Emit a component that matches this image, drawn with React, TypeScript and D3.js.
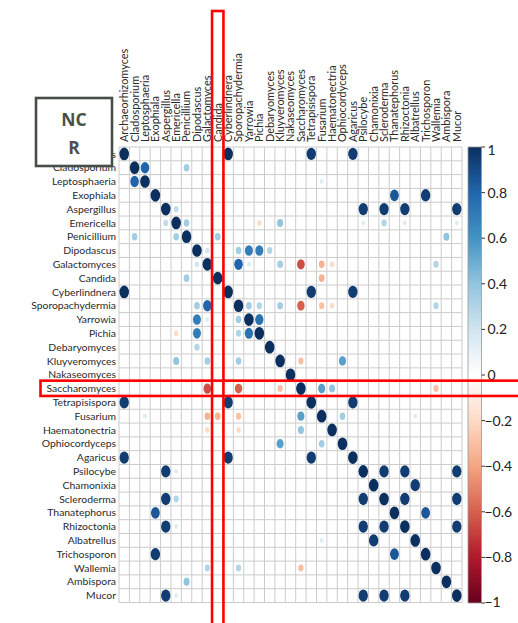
import React from "react";
import * as d3 from "d3";

// Fungal genera, in matrix order (rows top→bottom, columns left→right)
const genera: string[] = [
  "Archaeorhizomyces", "Cladosporium", "Leptosphaeria", "Exophiala", "Aspergillus",
  "Emericella", "Penicillium", "Dipodascus", "Galactomyces", "Candida",
  "Cyberlindnera", "Sporopachydermia", "Yarrowia", "Pichia", "Debaryomyces",
  "Kluyveromyces", "Nakaseomyces", "Saccharomyces", "Tetrapisispora", "Fusarium",
  "Haematonectria", "Ophiocordyceps", "Agaricus", "Psilocybe", "Chamonixia",
  "Scleroderma", "Thanatephorus", "Rhizoctonia", "Albatrellus", "Trichosporon",
  "Wallemia", "Ambispora", "Mucor",
];

// Off-diagonal correlations (symmetric); cells not listed are 0
const pairs: [string, string, number][] = [
  ["Archaeorhizomyces", "Cyberlindnera", 1.0],
  ["Archaeorhizomyces", "Tetrapisispora", 0.95],
  ["Archaeorhizomyces", "Agaricus", 0.95],
  ["Cyberlindnera", "Tetrapisispora", 0.95],
  ["Cyberlindnera", "Agaricus", 0.95],
  ["Tetrapisispora", "Agaricus", 0.95],
  ["Cladosporium", "Leptosphaeria", 0.8],
  ["Cladosporium", "Penicillium", 0.35],
  ["Leptosphaeria", "Fusarium", 0.15],
  ["Exophiala", "Thanatephorus", 0.85],
  ["Exophiala", "Trichosporon", 0.95],
  ["Thanatephorus", "Trichosporon", 0.85],
  ["Aspergillus", "Emericella", 0.25],
  ["Aspergillus", "Psilocybe", 0.95],
  ["Aspergillus", "Scleroderma", 0.95],
  ["Aspergillus", "Rhizoctonia", 0.95],
  ["Aspergillus", "Mucor", 0.95],
  ["Psilocybe", "Scleroderma", 0.95],
  ["Psilocybe", "Rhizoctonia", 0.95],
  ["Psilocybe", "Mucor", 0.95],
  ["Scleroderma", "Rhizoctonia", 0.95],
  ["Scleroderma", "Mucor", 0.95],
  ["Rhizoctonia", "Mucor", 0.95],
  ["Emericella", "Penicillium", 0.35],
  ["Emericella", "Pichia", -0.2],
  ["Emericella", "Kluyveromyces", 0.4],
  ["Emericella", "Psilocybe", 0.15],
  ["Emericella", "Scleroderma", 0.3],
  ["Emericella", "Rhizoctonia", 0.15],
  ["Emericella", "Mucor", 0.15],
  ["Penicillium", "Candida", 0.35],
  ["Penicillium", "Ambispora", 0.4],
  ["Dipodascus", "Galactomyces", 0.2],
  ["Dipodascus", "Sporopachydermia", 0.35],
  ["Dipodascus", "Yarrowia", 0.7],
  ["Dipodascus", "Pichia", 0.7],
  ["Dipodascus", "Debaryomyces", 0.3],
  ["Galactomyces", "Sporopachydermia", 0.8],
  ["Galactomyces", "Yarrowia", 0.15],
  ["Galactomyces", "Kluyveromyces", 0.35],
  ["Galactomyces", "Saccharomyces", -0.65],
  ["Galactomyces", "Fusarium", -0.35],
  ["Galactomyces", "Haematonectria", -0.2],
  ["Galactomyces", "Wallemia", 0.3],
  ["Candida", "Fusarium", -0.35],
  ["Sporopachydermia", "Yarrowia", 0.35],
  ["Sporopachydermia", "Pichia", 0.3],
  ["Sporopachydermia", "Kluyveromyces", 0.35],
  ["Sporopachydermia", "Saccharomyces", -0.6],
  ["Sporopachydermia", "Fusarium", -0.3],
  ["Sporopachydermia", "Haematonectria", -0.2],
  ["Sporopachydermia", "Wallemia", 0.3],
  ["Yarrowia", "Pichia", 0.75],
  ["Kluyveromyces", "Saccharomyces", -0.3],
  ["Kluyveromyces", "Ophiocordyceps", 0.55],
  ["Saccharomyces", "Fusarium", 0.55],
  ["Saccharomyces", "Haematonectria", 0.4],
  ["Saccharomyces", "Wallemia", -0.3],
  ["Fusarium", "Ophiocordyceps", 0.35],
  ["Fusarium", "Albatrellus", 0.15],
  ["Chamonixia", "Albatrellus", 0.95],
];

// Colour legend ticks
const legendTicks: number[] = [1, 0.8, 0.6, 0.4, 0.2, 0, -0.2, -0.4, -0.6, -0.8, -1];

// RdBu diverging ramp
const rampStops: string[] = [
  "#67001F", "#B2182B", "#D6604D", "#F4A582", "#FDDBC7", "#FFFFFF",
  "#D1E5F0", "#92C5DE", "#4393C3", "#2166AC", "#0B2F5E",
];

const W = 518;
const H = 623;
const FONT = "Lato, 'Open Sans', sans-serif";

export default function App() {
  const x = d3.scaleBand<string>().domain(genera).range([119, 462]);
  const y = d3.scaleBand<string>().domain(genera).range([147, 602.5]);
  const cw = x.bandwidth();
  const ch = y.bandwidth();

  const color = d3
    .scaleLinear<string>()
    .domain(d3.range(11).map((i) => -1 + i * 0.2))
    .range(rampStops)
    .interpolate(d3.interpolateRgb)
    .clamp(true);

  // Build symmetric matrix entries
  const cells: { r: string; c: string; v: number }[] = [];
  genera.forEach((g) => cells.push({ r: g, c: g, v: 1 }));
  pairs.forEach(([a, b, v]) => {
    cells.push({ r: a, c: b, v });
    cells.push({ r: b, c: a, v });
  });

  const barX = 468;
  const barW = 13.5;
  const ly = d3.scaleLinear().domain([-1, 1]).range([603, 147]);
  const fmt = (t: number) => (t < 0 ? "\u2212" + Math.abs(t) : String(t));

  const gradStops = d3.range(0, 1.0001, 0.02).map((t) => ({
    offset: t,
    col: color(1 - 2 * t),
  }));

  const grid0 = x.range()[0];
  const grid1 = x.range()[1];
  const gy0 = y.range()[0];
  const gy1 = y.range()[1];

  return (
    <svg
      width={W}
      height={H}
      style={{ position: "absolute", left: 0, top: 0, background: "#fff" }}
      fontFamily={FONT}
    >
      <defs>
        <linearGradient id="cbar" x1="0" y1="0" x2="0" y2="1">
          {gradStops.map((s, i) => (
            <stop key={i} offset={s.offset} stopColor={s.col} />
          ))}
        </linearGradient>
      </defs>
      <rect x={0} y={0} width={W} height={H} fill="#fff" />

      {/* grid */}
      <g stroke="#cccccc" strokeWidth={1}>
        {d3.range(genera.length + 1).map((i) => {
          const xx = grid0 + i * cw;
          return <line key={"v" + i} x1={xx} x2={xx} y1={gy0} y2={gy1} />;
        })}
        {d3.range(genera.length + 1).map((i) => {
          const yy = gy0 + i * ch;
          return <line key={"h" + i} x1={grid0} x2={grid1} y1={yy} y2={yy} />;
        })}
      </g>

      {/* correlation ellipses */}
      <g>
        {cells.map((d, i) => {
          const s = 0.46 * Math.sqrt(Math.abs(d.v));
          return (
            <ellipse
              key={i}
              cx={(x(d.c) as number) + cw / 2}
              cy={(y(d.r) as number) + ch / 2}
              rx={s * cw}
              ry={s * ch}
              fill={color(d.v)}
            />
          );
        })}
      </g>

      {/* row labels */}
      <g fontSize={10.4} fill="#2a2a2a" textAnchor="end">
        {genera.map((g) => (
          <text key={g} x={116} y={(y(g) as number) + ch / 2} dy="0.35em">
            {g}
          </text>
        ))}
      </g>

      {/* column labels */}
      <g fontSize={10.9} fill="#2a2a2a">
        {genera.map((g) => {
          const cx = (x(g) as number) + cw / 2;
          return (
            <text
              key={g}
              transform={`translate(${cx},${gy0 - 5}) rotate(-90)`}
              dy="0.36em"
            >
              {g}
            </text>
          );
        })}
      </g>

      {/* colour legend */}
      <rect x={barX} y={147} width={barW} height={456} fill="url(#cbar)" stroke="#9a9a9a" strokeWidth={0.8} />
      <g fontSize={14} fill="#222">
        {legendTicks.map((t) => (
          <g key={t}>
            <line x1={barX + barW} x2={barX + barW + 3.5} y1={ly(t)} y2={ly(t)} stroke="#333" strokeWidth={1} />
            <text x={t < 0 ? 484.5 : 487.5} y={ly(t) + (t === 1 ? 3 : t === -1 ? -1 : 0)} dy="0.35em">
              {fmt(t)}
            </text>
          </g>
        ))}
      </g>

      {/* group tag panel */}
      <rect x={10} y={97} width={102} height={62} fill="#fff" />
      <rect x={36} y={98} width={76} height={68} fill="#fff" stroke="#474d47" strokeWidth={2.6} />
      <g fontSize={17.5} fontWeight={700} fill="#4a4f4a" textAnchor="middle" fontFamily="'Open Sans', sans-serif">
        <text x={74} y={126}>NC</text>
        <text x={74} y={153.5}>R</text>
      </g>

      {/* highlighted column and row */}
      <g fill="none" stroke="#ff0000" strokeWidth={2.6}>
        <rect x={(x("Candida") as number) - 0.5} y={11} width={cw + 1} height={620} />
        <rect x={40.5} y={(y("Saccharomyces") as number) - 1} width={490} height={ch + 1.5} />
      </g>
    </svg>
  );
}
